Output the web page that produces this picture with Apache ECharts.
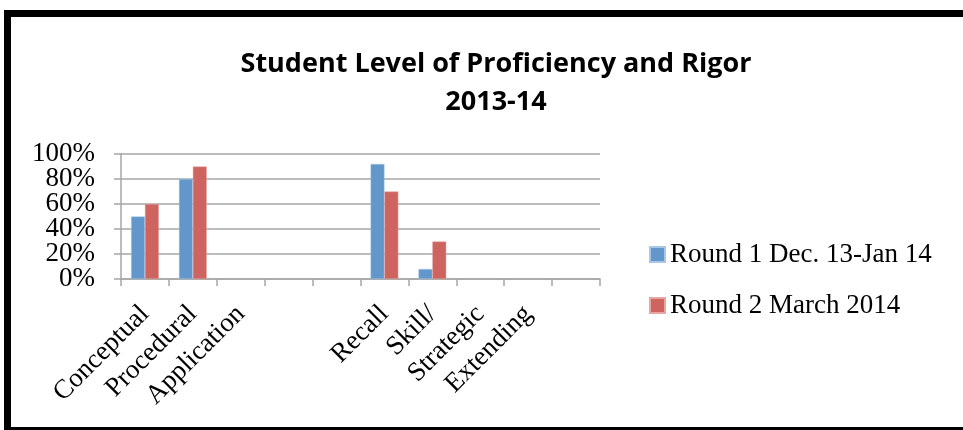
<!DOCTYPE html>
<html>
<head>
<meta charset="utf-8">
<script src="https://cdn.jsdelivr.net/npm/echarts@6/dist/echarts.min.js"></script>
<style>
html,body{margin:0;padding:0;background:#fff;}
#c{width:963px;height:430px;}
</style>
</head>
<body>
<div id="c"></div>
<script>
const titleLines = ['Student Level of Proficiency and Rigor', '2013-14'];
const categories = ['Conceptual', 'Procedural', 'Application', ' ', '  ', 'Recall', 'Skill/', 'Strategic', 'Extending', '   '];
const seriesNames = ['Round 1 Dec. 13-Jan 14', 'Round 2 March 2014'];
const round1 = [50, 80, null, null, null, 92, 8, null, null, null];
const round2 = [60, 90, null, null, null, 70, 30, null, null, null];
const yTicks = [0, 20, 40, 60, 80, 100];

const serif = '"Liberation Serif", "DejaVu Serif", serif';
const yLabelStyle = {formatter: v => v + '%', margin: 26, showMinLabel: true, showMaxLabel: true,
  fontFamily: serif, fontSize: 27, color: '#000'};
const hiddenY = {axisLine: {show: false}, axisTick: {show: false}, splitLine: {show: false}};
const chart = echarts.init(document.getElementById('c'), null, {renderer: 'canvas'});
chart.setOption({
  animation: false,
  backgroundColor: '#fff',
  title: {
    text: titleLines.join('\n'),
    left: 491, top: 40, textAlign: 'center',
    textStyle: {fontFamily: '"Open Sans", sans-serif', fontWeight: 'bold', fontSize: 27, lineHeight: 38, color: '#000'}
  },
  legend: {
    orient: 'vertical', left: 644, top: 236,
    itemWidth: 15, itemHeight: 15, itemGap: 24,
    icon: 'rect',
    textStyle: {fontFamily: serif, fontSize: 27, lineHeight: 27, color: '#000'},
    data: seriesNames
  },
  grid: [
    {left: 121, right: 363, top: 154, bottom: 151, containLabel: false},
    {left: 121, right: 363, top: 179, bottom: 151, containLabel: false},
    {left: 121, right: 363, top: 154, bottom: 176, containLabel: false}
  ],
  xAxis: [
    {
      type: 'category', data: categories,
      axisLine: {lineStyle: {color: '#a6a6a6', width: 1.5}},
      axisTick: {show: true, length: 7, lineStyle: {color: '#a6a6a6', width: 1.5}},
      axisLabel: {rotate: 45, interval: 0, margin: 31, hideOverlap: false, fontFamily: serif, fontSize: 27, color: '#000'}
    },
    {type: 'category', gridIndex: 1, data: categories, show: false},
    {type: 'category', gridIndex: 2, data: categories, show: false}
  ],
  yAxis: [
    {
      type: 'value', min: yTicks[0], max: yTicks[yTicks.length-1], interval: 20,
      axisLine: {show: true, lineStyle: {color: '#a6a6a6', width: 1.5}},
      axisTick: {show: true, length: 7, inside: false, lineStyle: {color: '#a6a6a6', width: 1.5}},
      splitLine: {lineStyle: {color: '#a6a6a6', width: 1.5}},
      axisLabel: {show: false}
    },
    Object.assign({type: 'value', gridIndex: 1, min: yTicks[0], max: yTicks[4], interval: 40, axisLabel: yLabelStyle}, hiddenY),
    Object.assign({type: 'value', gridIndex: 2, min: yTicks[1], max: yTicks[5], interval: 40, axisLabel: yLabelStyle}, hiddenY)
  ],
  series: [
    {name: seriesNames[0], type: 'bar', data: round1, barGap: '0%', barCategoryGap: '42%',
     itemStyle: {color: '#6297cc', borderColor: '#a9c6e6', borderWidth: 0.5}},
    {name: seriesNames[1], type: 'bar', data: round2, barGap: '0%', barCategoryGap: '42%',
     itemStyle: {color: '#cd645f', borderColor: '#e8a5a2', borderWidth: 0.5}}
  ],
  graphic: [{
    type: 'rect', shape: {x: 7.5, y: 13.5, width: 1000, height: 417},
    style: {fill: null, stroke: '#000', lineWidth: 7}, silent: true, z: 100
  }]
});
</script>
</body>
</html>
